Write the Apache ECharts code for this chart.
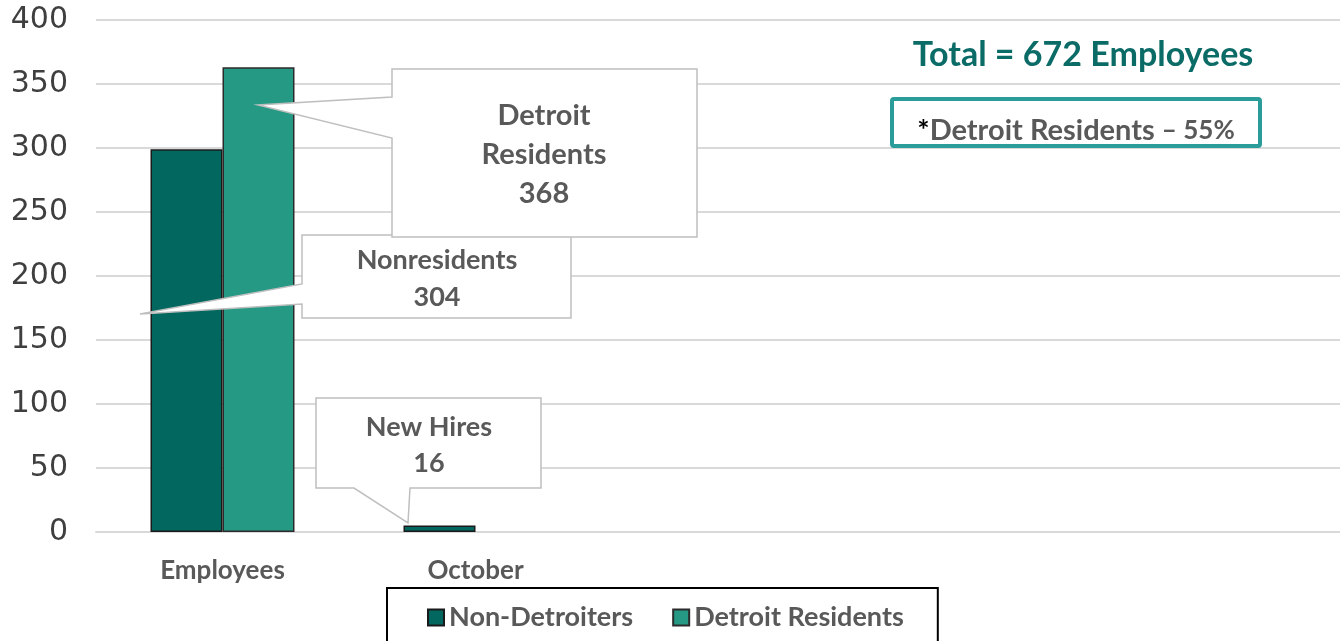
<!DOCTYPE html>
<html>
<head>
<meta charset="utf-8">
<script src="https://cdn.jsdelivr.net/npm/echarts@6/dist/echarts.min.js"></script>
<style>
  html, body { margin: 0; padding: 0; background: #fff; }
  #chart { width: 1340px; height: 641px; }
</style>
</head>
<body>
<div id="chart"></div>
<script>
// categories (three empty slots keep the bars to the left like the original)
var categories = ['Employees', 'October', '', '', ''];
var nonDetroiters = [299, 5, null, null, null];
var detroitResidents = [363, null, null, null, null];
var yTicks = [0, 50, 100, 150, 200, 250, 300, 350, 400];

var FONT = 'Lato, "Open Sans", sans-serif';
var GRAY = '#595959';
var BOX = '#bfbfbf';

var chart = echarts.init(document.getElementById('chart'));

// callout helper: polygon shape + text lines
function callout(points, lines, cx, ys, size) {
  var els = [{
    type: 'polygon', z: 100,
    shape: { points: points },
    style: { fill: '#fff', stroke: BOX, lineWidth: 1.5 }
  }];
  lines.forEach(function (t, i) {
    els.push({
      type: 'text', z: 101,
      x: cx, y: ys[i],
      style: { text: t, font: 'bold ' + size + 'px ' + FONT, fill: GRAY, align: 'center', verticalAlign: 'middle' }
    });
  });
  return els;
}

var graphics = []
  .concat(callout([[316,398],[541,398],[541,488],[410,488],[408,523],[354,488],[316,488]],
                  ['New Hires', '16'], 429, [427, 463], 27))
  .concat(callout([[302,235],[571,235],[571,318],[302,318],[302,304],[140,314],[302,284]],
                  ['Nonresidents', '304'], 437, [260, 297], 27))
  .concat(callout([[392,69],[697,69],[697,237],[392,237],[392,138],[258,105],[392,97]],
                  ['Detroit', 'Residents', '368'], 544, [116, 155, 194], 29));

graphics.push({
  type: 'text', z: 100,
  x: 1083, y: 55,
  style: { text: 'Total = 672 Employees', font: 'bold 34px ' + FONT, fill: '#0b6b66', align: 'center', verticalAlign: 'middle' }
});
graphics.push({
  type: 'rect', z: 100,
  shape: { x: 892, y: 99, width: 368, height: 47, r: 2 },
  style: { fill: '#fff', stroke: '#2a9d9a', lineWidth: 4 }
});
graphics.push({
  type: 'text', z: 101,
  x: 1076, y: 131,
  style: {
    text: '{a|*}{b|Detroit Residents }{c|– 55%}',
    align: 'center', verticalAlign: 'middle',
    rich: {
      a: { font: 'bold 29px ' + FONT, fill: '#000' },
      b: { font: 'bold 29px ' + FONT, fill: GRAY },
      c: { font: 'bold 26px ' + FONT, fill: GRAY }
    }
  }
});

var option = {
  backgroundColor: '#fff',
  animation: false,
  grid: { left: 96, top: 20, width: 1265, height: 512, outerBoundsMode: 'none' },
  legend: {
    top: 588, left: 387,
    padding: [16, 34, 40, 40],
    borderColor: '#000', borderWidth: 2,
    itemWidth: 16, itemHeight: 16, itemGap: 39,
    icon: 'rect',
    textStyle: { fontFamily: FONT, fontWeight: 'bold', fontSize: 27, color: GRAY },
    data: ['Non-Detroiters', 'Detroit Residents']
  },
  xAxis: {
    type: 'category',
    data: categories,
    axisLine: { lineStyle: { color: '#d9d9d9', width: 2 } },
    axisTick: { show: false },
    axisLabel: { fontFamily: FONT, fontWeight: 'bold', fontSize: 26, color: GRAY, margin: 26 }
  },
  yAxis: {
    type: 'value',
    min: yTicks[0], max: yTicks[yTicks.length - 1], interval: 50,
    axisLine: { show: false },
    axisTick: { show: false },
    axisLabel: { fontFamily: '"DejaVu Sans", sans-serif', fontSize: 30, color: '#3f3f3f', margin: 28 },
    splitLine: { lineStyle: { color: '#d9d9d9', width: 2 } }
  },
  series: [
    {
      name: 'Non-Detroiters', type: 'bar', data: nonDetroiters,
      barWidth: 72, barGap: '0%',
      itemStyle: { color: '#02685f', borderColor: '#1a1a1a', borderWidth: 1.5 }
    },
    {
      name: 'Detroit Residents', type: 'bar', data: detroitResidents,
      barWidth: 72, barGap: '0%',
      itemStyle: { color: '#269985', borderColor: '#2b2b2b', borderWidth: 1.5 }
    }
  ],
  graphic: graphics
};

chart.setOption(option);
</script>
</body>
</html>
